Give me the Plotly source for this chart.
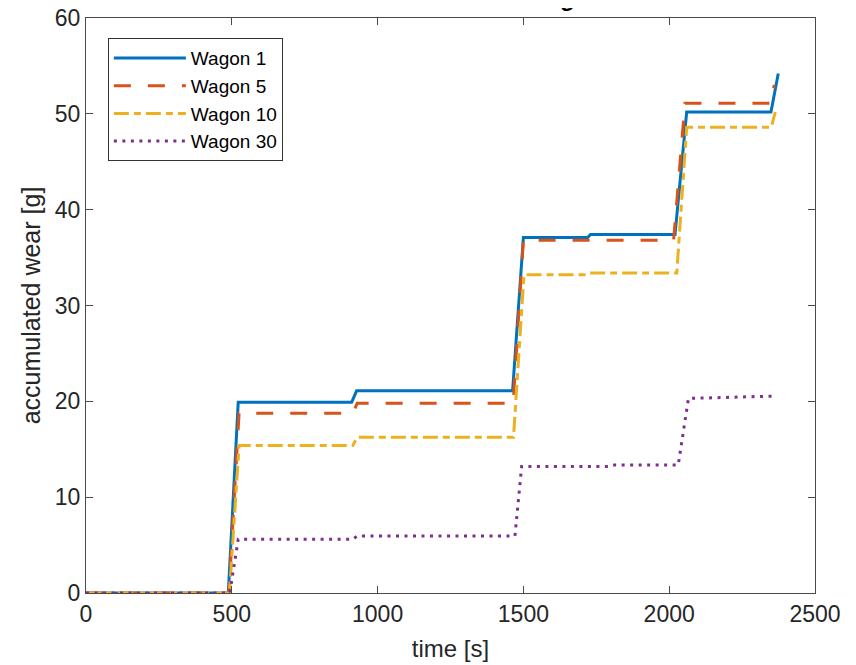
import plotly.graph_objects as go

# ---- data ----
w1_t = [0, 488, 522, 911, 928, 1463, 1500, 1720, 1730, 2020, 2060, 2349, 2374]
w1_v = [0, 0, 19.9, 19.9, 21.1, 21.1, 37.1, 37.1, 37.4, 37.4, 50.2, 50.2, 54.2]

w5_t = [0, 490, 525, 915, 930, 1465, 1500, 2015, 2054, 2350, 2360]
w5_v = [0, 0, 18.75, 18.75, 19.8, 19.8, 36.8, 36.8, 51.1, 51.1, 53.0]

w10_t = [0, 492, 525, 915, 930, 1466, 1502, 1715, 1728, 2026, 2060, 2350, 2364]
w10_v = [0, 0, 15.4, 15.4, 16.25, 16.25, 33.2, 33.2, 33.4, 33.4, 48.6, 48.6, 50.2]

w30_t = [0, 493, 522, 915, 930, 1471, 1494, 1790, 1805, 2031, 2066, 2362]
w30_v = [0, 0, 5.6, 5.6, 5.95, 5.95, 13.2, 13.2, 13.36, 13.36, 20.3, 20.55]

names = ["Wagon 1", "Wagon 5", "Wagon 10", "Wagon 30"]
x_ticks = [0, 500, 1000, 1500, 2000, 2500]
y_ticks = [0, 10, 20, 30, 40, 50, 60]
title_text = "Accumulated wear of wagons"

FONT = "Liberation Sans, Arial, sans-serif"
TXT = "#262626"

series = [
    (w1_t, w1_v, "#0072BD", "solid"),
    (w5_t, w5_v, "#D95319", "17px,17px"),
    (w10_t, w10_v, "#EDB120", "15px,5px,7px,5px"),
    (w30_t, w30_v, "#7E2F8E", "3px,5.5px"),
]

fig = go.Figure()
for (t, v, c, d), n in zip(series, names):
    fig.add_trace(go.Scatter(x=t, y=v, mode="lines", name=n,
                             line=dict(color=c, width=3, dash=d)))

axis_common = dict(
    showgrid=False, zeroline=False, showline=True, mirror="ticks",
    linecolor="#4a4a4a", linewidth=1.2, ticks="inside", ticklen=7,
    tickcolor="#4a4a4a", tickwidth=1.2, automargin=False,
    ticklabeloverflow="allow",
    tickfont=dict(family=FONT, size=23, color=TXT),
)

fig.update_xaxes(range=[0, 2500], tickvals=x_ticks,
                 title=dict(text="time [s]", font=dict(family=FONT, size=24, color=TXT), standoff=14),
                 **axis_common)
fig.update_yaxes(range=[0, 60], tickvals=y_ticks,
                 title=dict(text="accumulated wear [g]", font=dict(family=FONT, size=25, color=TXT), standoff=6),
                 **axis_common)

# title: only its lowest part is visible at the top edge, as in the reference
fig.add_annotation(text="<b>" + title_text + "</b>", xref="paper", yref="paper",
                   x=0.4966, y=1, xanchor="center", yanchor="bottom", yshift=5,
                   showarrow=False, font=dict(family=FONT, size=24, color="black"))

fig.update_layout(
    width=856, height=665,
    margin=dict(l=78, r=49, t=10, b=80, autoexpand=False),
    paper_bgcolor="white", plot_bgcolor="white",
    legend=dict(x=0.030, y=0.965, xanchor="left", yanchor="top",
                bgcolor="white", bordercolor="#333333", borderwidth=1,
                font=dict(family=FONT, size=19, color="black"),
                itemwidth=72, tracegroupgap=0),
    showlegend=True,
)

fig.write_html("out.html")
